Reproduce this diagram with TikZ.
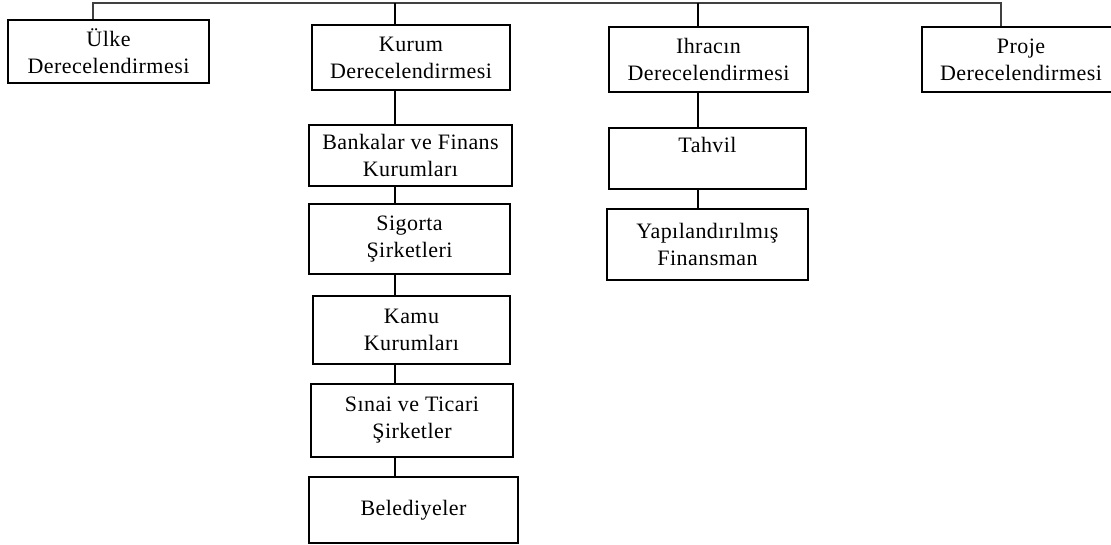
\documentclass[tikz,border=0pt]{standalone}
\usepackage{fontspec}
\setmainfont{Liberation Serif}[LetterSpace=2]

\begin{document}
\begin{tikzpicture}[x=1pt,y=-1pt,
        box/.style={draw, rectangle, line width=1.1pt, align=center, inner sep=2pt,
            font=\fontsize{22}{27}\selectfont},
        link/.style={line width=1.1pt}]
            \clip (0,0) rectangle (1111,544);

            \node[box, minimum width=201, minimum height=63] (ulke)    at (108.5,51.5) {Ülke\\Derecelendirmesi};
            \node[box, minimum width=198, minimum height=65] (kurum)   at (411,57.5)   {Kurum\\Derecelendirmesi};
            \node[box, minimum width=199, minimum height=65] (ihracin) at (708.5,59.5) {Ihracın\\Derecelendirmesi};
            \node[box, minimum width=198, minimum height=65] (proje)   at (1021,59.5)  {Proje\\Derecelendirmesi};

            \node[box, minimum width=203, minimum height=61] (bankalar) at (410.5,155.5) {Bankalar ve Finans\\Kurumları};
            \node[box, minimum width=201, minimum height=70] (sigorta)  at (409.5,239)   {Sigorta\\Şirketleri};
            \node[box, minimum width=197, minimum height=68] (kamu)     at (411.5,330)   {Kamu\\Kurumları};
            \node[box, minimum width=202, minimum height=73] (sinai)    at (412,420.5)   {Sınai ve Ticari\\Şirketler};
            \node[box, minimum width=209, minimum height=66] (belediye) at (413.5,510)   {Belediyeler};

            \node[box, minimum width=197, minimum height=61] (tahvil) at (707.5,158.5) {Tahvil\\\mbox{}};
            \node[box, minimum width=201, minimum height=71] (yapi)   at (707.5,244.5) {Yapılandırılmış\\Finansman};

            % bus and spines
            \coordinate (bus) at (0,3);
            \coordinate (sp1) at (93,0);
            \coordinate (sp2) at (395,0);
            \coordinate (sp3) at (698,0);
            \coordinate (sp4) at (1001,0);

            \draw[link, black!75] (ulke.north -| sp1) -- (sp1 |- bus) -- (sp4 |- bus) -- (proje.north -| sp4);
            \draw[link] (kurum.north -| sp2) -- (sp2 |- bus);
            \draw[link] (ihracin.north -| sp3) -- (sp3 |- bus);

            \draw[link] (kurum.south -| sp2) -- (bankalar.north -| sp2);
            \draw[link] (bankalar.south -| sp2) -- (sigorta.north -| sp2);
            \draw[link] (sigorta.south -| sp2) -- (kamu.north -| sp2);
            \draw[link] (kamu.south -| sp2) -- (sinai.north -| sp2);
            \draw[link] (sinai.south -| sp2) -- (belediye.north -| sp2);

            \draw[link] (ihracin.south -| sp3) -- (tahvil.north -| sp3);
            \draw[link] (tahvil.south -| sp3) -- (yapi.north -| sp3);
        \end{tikzpicture}
\end{document}
